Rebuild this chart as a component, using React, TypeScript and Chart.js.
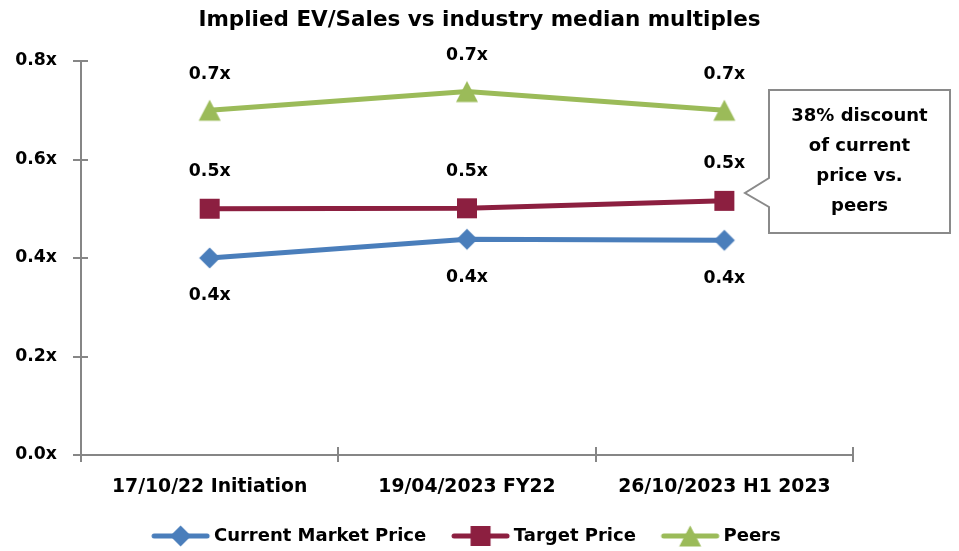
import React, { useEffect, useRef } from 'react';
import { Chart, registerables } from 'chart.js';

Chart.register(...registerables);

// ---------- data ----------
const categories = ['17/10/22 Initiation', '19/04/2023 FY22', '26/10/2023 H1 2023'];
const seriesNames = ['Current Market Price', 'Target Price', 'Peers'];
const currentMarketPrice = [0.4, 0.438, 0.436];
const targetPrice = [0.5, 0.501, 0.516];
const peers = [0.7, 0.738, 0.7];
const yTickValues = [0, 0.2, 0.4, 0.6, 0.8];
const titleText = 'Implied EV/Sales vs industry median multiples';
const calloutLines = ['38% discount', 'of current', 'price vs.', 'peers'];

// ---------- style ----------
const FONT = '"DejaVu Sans"';
const BLUE = '#4A7EBB';
const MAROON = '#8C1F40';
const GREEN = '#9BBB59';
const AXIS = '#868686';

type Shape = 'diamond' | 'square' | 'triangle';

function drawMarker(ctx: CanvasRenderingContext2D, shape: Shape, cx: number, cy: number, color: string) {
  ctx.fillStyle = color;
  ctx.beginPath();
  if (shape === 'diamond') {
    const r = 10.5;
    ctx.moveTo(cx, cy - r);
    ctx.lineTo(cx + r, cy);
    ctx.lineTo(cx, cy + r);
    ctx.lineTo(cx - r, cy);
  } else if (shape === 'square') {
    const h = 10;
    ctx.rect(cx - h, cy - h, 2 * h, 2 * h);
  } else {
    const w = 11;
    const h = 10.5;
    ctx.moveTo(cx, cy - h);
    ctx.lineTo(cx + w, cy + h);
    ctx.lineTo(cx - w, cy + h);
  }
  ctx.closePath();
  ctx.fill();
}

function markerImage(shape: Shape, color: string) {
  const c = document.createElement('canvas');
  c.width = 26;
  c.height = 26;
  const ctx = c.getContext('2d')!;
  drawMarker(ctx, shape, 13, 13, color);
  return c;
}

function legendImage(shape: Shape, color: string) {
  const c = document.createElement('canvas');
  c.width = 70;
  c.height = 26;
  const ctx = c.getContext('2d')!;
  const x0 = 10;
  const x1 = 63;
  const y = 13;
  ctx.strokeStyle = color;
  ctx.lineWidth = 5;
  ctx.lineCap = 'round';
  ctx.beginPath();
  ctx.moveTo(x0, y);
  ctx.lineTo(x1, y);
  ctx.stroke();
  drawMarker(ctx, shape, (x0 + x1) / 2, y, color);
  return c;
}

const crossTicksPlugin = {
  id: 'crossTicks',
  afterDraw(chart: any) {
    const { ctx, scales } = chart;
    const xs = scales.x;
    const ys = scales.y;
    ctx.save();
    ctx.strokeStyle = AXIS;
    ctx.lineWidth = 2;
    const step = xs.getPixelForValue(1) - xs.getPixelForValue(0);
    for (let i = 0; i <= categories.length; i++) {
      const x = Math.round(xs.getPixelForValue(0) - step / 2 + i * step);
      ctx.beginPath();
      ctx.moveTo(x, ys.bottom);
      ctx.lineTo(x, ys.bottom - 8);
      ctx.stroke();
    }
    yTickValues.forEach((v) => {
      const y = Math.round(ys.getPixelForValue(v));
      ctx.beginPath();
      ctx.moveTo(xs.left, y);
      ctx.lineTo(xs.left + 7, y);
      ctx.stroke();
    });
    ctx.restore();
  },
};

const dataLabelsPlugin = {
  id: 'pointLabels',
  afterDatasetsDraw(chart: any, _args: any, opts: any) {
    const { ctx } = chart;
    ctx.save();
    ctx.font = `bold ${opts.size}px ${FONT}`;
    ctx.fillStyle = '#000';
    ctx.textAlign = 'center';
    ctx.textBaseline = 'middle';
    chart.data.datasets.forEach((ds: any, di: number) => {
      const meta = chart.getDatasetMeta(di);
      meta.data.forEach((pt: any, i: number) => {
        const v = ds.data[i] as number;
        ctx.fillText(v.toFixed(1) + 'x', pt.x, pt.y + opts.offsets[di]);
      });
    });
    ctx.restore();
  },
};

const calloutPlugin = {
  id: 'callout',
  afterDraw(chart: any) {
    const { ctx, chartArea } = chart;
    const left = chartArea.right - 84;
    const right = chartArea.right + 97;
    const top = chartArea.top + 29;
    const bottom = chartArea.top + 172;
    const tipX = chartArea.right - 108;
    const tipY = chartArea.top + 132;
    ctx.save();
    ctx.beginPath();
    ctx.moveTo(left, top);
    ctx.lineTo(right, top);
    ctx.lineTo(right, bottom);
    ctx.lineTo(left, bottom);
    ctx.lineTo(left, chartArea.top + 146);
    ctx.lineTo(tipX, tipY);
    ctx.lineTo(left, chartArea.top + 117);
    ctx.closePath();
    ctx.fillStyle = '#fff';
    ctx.fill();
    ctx.strokeStyle = '#8A8A8A';
    ctx.lineWidth = 2;
    ctx.stroke();
    ctx.fillStyle = '#000';
    ctx.font = `bold 18px ${FONT}`;
    ctx.textAlign = 'center';
    ctx.textBaseline = 'middle';
    const cx = (left + right) / 2;
    calloutLines.forEach((t, i) => {
      ctx.fillText(t, cx, top + 26 + i * 30);
    });
    ctx.restore();
  },
};

export default function App() {
  const ref = useRef<HTMLCanvasElement | null>(null);

  useEffect(() => {
    if (!ref.current) return;
    const shapes: Shape[] = ['diamond', 'square', 'triangle'];
    const colors = [BLUE, MAROON, GREEN];
    const values = [currentMarketPrice, targetPrice, peers];
    const legendImgs = shapes.map((s, i) => legendImage(s, colors[i]));

    const chart = new Chart(ref.current, {
      type: 'line',
      data: {
        labels: categories,
        datasets: values.map((vals, i) => ({
          label: seriesNames[i],
          data: vals,
          borderColor: colors[i],
          backgroundColor: colors[i],
          borderWidth: 5,
          tension: 0,
          pointStyle: markerImage(shapes[i], colors[i]),
          pointRadius: 10,
          pointHoverRadius: 10,
          fill: false,
        })),
      },
      plugins: [crossTicksPlugin, dataLabelsPlugin, calloutPlugin],
      options: {
        responsive: false,
        animation: false,
        events: [],
        layout: { padding: 0 },
        scales: {
          x: {
            type: 'category',
            offset: true,
            grid: {
              offset: true,
              drawOnChartArea: false,
              drawTicks: true,
              tickLength: 7,
              color: AXIS,
              lineWidth: 2,
            },
            border: { display: true, color: AXIS, width: 2 },
            ticks: {
              color: '#000',
              font: { family: FONT, size: 18.8, weight: 'bold' },
              padding: 13.4,
              maxRotation: 0,
              autoSkip: false,
            },
            afterFit: (s: any) => {
              s.height = 45;
            },
          },
          y: {
            type: 'linear',
            min: 0,
            max: 0.8,
            afterBuildTicks: (s: any) => {
              s.ticks = yTickValues.map((v) => ({ value: v }));
            },
            grid: {
              drawOnChartArea: false,
              drawTicks: true,
              tickLength: 8,
              color: AXIS,
              lineWidth: 2,
            },
            border: { display: true, color: AXIS, width: 2 },
            ticks: {
              color: '#000',
              font: { family: FONT, size: 17.3, weight: 'bold' },
              padding: 16,
              callback: (v: any) => Number(v).toFixed(1) + 'x',
            },
            afterFit: (s: any) => {
              s.width = 81;
            },
          },
          y2: {
            type: 'linear',
            position: 'right',
            display: true,
            grid: { display: false, drawTicks: false },
            border: { display: false },
            ticks: { display: false },
            afterFit: (s: any) => {
              s.width = 106;
            },
          },
        },
        plugins: {
          title: {
            display: true,
            text: titleText,
            color: '#000',
            font: { family: FONT, size: 21.5, weight: 'bold' },
            padding: { top: 8, bottom: 27.2 },
          },
          legend: {
            display: true,
            position: 'bottom',
            fullSize: false,
            labels: {
              color: '#000',
              font: { family: FONT, size: 18, weight: 'bold' },
              usePointStyle: true,
              pointStyleWidth: 51.6,
              padding: 27,
              generateLabels: (c: any) => {
                const items = (Chart.defaults.plugins.legend.labels as any).generateLabels(c);
                return items.map((it: any, i: number) => ({ ...it, pointStyle: legendImgs[i] }));
              },
            },
          },
          tooltip: { enabled: false },
          pointLabels: { size: 17.3, offsets: [38, -37, -36] },
        } as any,
      },
    });
    return () => chart.destroy();
  }, []);

  return (
    <div
      style={{
        position: 'fixed',
        left: 0,
        top: 0,
        width: 959,
        height: 551,
        overflow: 'hidden',
        background: '#fff',
      }}
    >
      <canvas ref={ref} width={959} height={555} style={{ display: 'block' }} />
    </div>
  );
}
